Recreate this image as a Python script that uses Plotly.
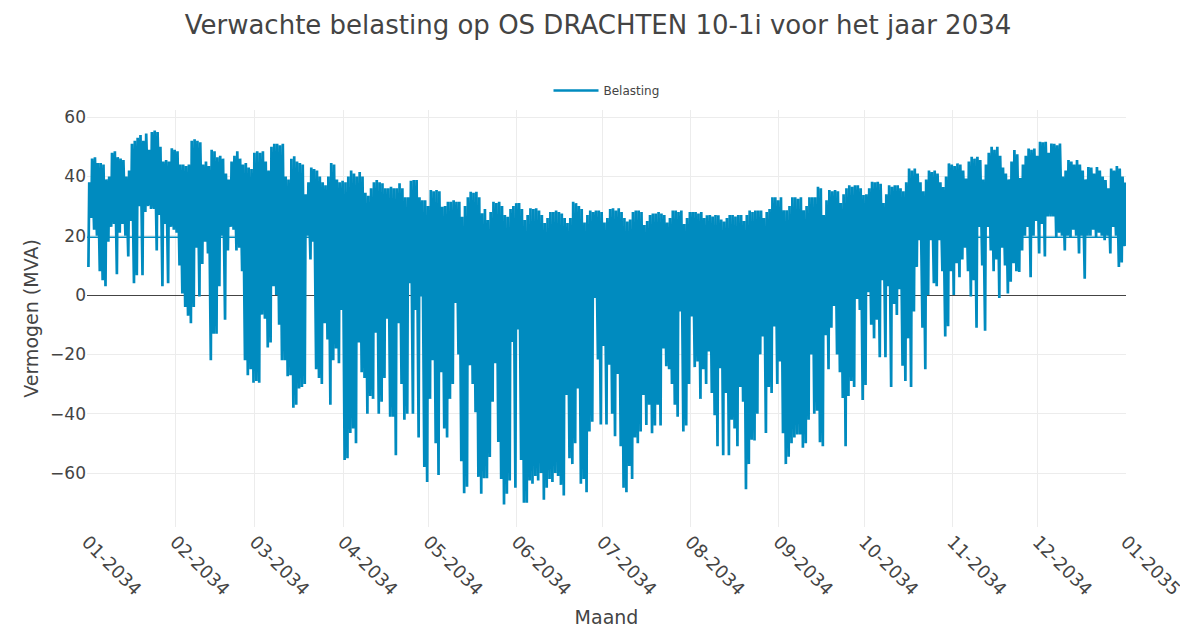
import pandas as pd
import plotly.graph_objects as go

# ---------------- data ----------------
YEAR_START = "2034-01-01"
YEAR_END = "2035-01-01"
SERIES_NAME = "Belasting"
BASE_LEVEL = 19.5   # constant horizontal line visible in the winter months

# daily maximum load (MVA) per month
max_jan = [38, 46, 46.5, 44.5, 44.5, 44, 39, 40, 48, 48.5, 46.5, 46, 45.5, 40, 42, 51, 52, 53, 54, 52,
           54.5, 49, 55, 55.5, 55, 50, 45, 45.5, 45, 49.5, 49]
max_feb = [48.5, 44, 44, 43.5, 44, 52, 52.5, 52, 51.5, 44, 45, 43.5, 49, 48.5, 46.5, 47, 46, 41, 39, 45,
           47, 48.5, 46, 44, 44.5, 43, 42.5, 48]
max_mar = [48.5, 48, 48.5, 45, 42, 50, 51, 51, 50.5, 51, 40, 39, 46, 46.8, 45, 44.5, 44, 34, 38, 43,
           42.5, 42, 40, 38, 37, 40, 44.5, 44, 39, 38, 38.5]
max_apr = [38, 40, 42, 41, 40, 41.5, 40, 34.5, 33.5, 36, 38, 38.8, 38, 37.7, 36, 36, 36.5, 36, 36, 37.7,
           36, 33, 33, 38.5, 38.8, 38.8, 33, 32, 32, 30]
max_may = [35.4, 35, 35.4, 35, 29.8, 30, 31.5, 31.5, 32, 31.5, 31.5, 26.4, 30, 33, 34.8, 34.5, 34.8, 33,
           27.6, 29, 25.3, 28, 31.5, 31, 31.5, 30, 27, 26.4, 29, 30, 31]
max_jun = [31, 29, 25.3, 27, 29.3, 29, 29.3, 28.5, 27, 24.3, 26, 28, 28, 28.5, 28, 27.5, 26, 24.3, 26,
           31.5, 31, 30, 29, 24.5, 27, 28.5, 28, 28.5, 28.5, 28]
max_jul = [24.5, 26, 29, 29.3, 28.5, 29.3, 28, 26, 24.8, 25.5, 28, 28.5, 28.5, 28, 23.6, 25, 27, 27.5,
           27.5, 28, 27.5, 27, 24.5, 26, 28.5, 28.5, 28, 28.5, 24, 26, 28]
max_aug = [28, 28, 27.5, 28, 26, 26.9, 27, 26.5, 27, 26.9, 25.5, 24.8, 26, 27, 27, 26.5, 27, 27, 25, 27,
           28.5, 28, 28.5, 28.5, 28.5, 26, 28, 29, 33, 33, 32]
max_sep = [33, 28.6, 28.6, 30, 33, 33, 32.5, 33, 28.6, 30, 33, 33, 33, 36.5, 36, 27, 32, 35.4, 35, 35.4,
           35, 31, 34, 36, 37, 36.5, 37, 37, 36, 33.7]
max_oct = [34, 36, 38.2, 38, 38.2, 37.5, 31, 34, 37, 36.5, 37, 37, 36, 35, 38, 42.7, 42, 42.7, 41, 38,
           35, 39, 42, 41.5, 42, 41, 38, 36.4, 40, 44.4, 44]
max_nov = [43.5, 44.4, 44, 42, 39.3, 45, 46.6, 46, 46.6, 45.5, 39, 44, 48, 50, 49, 50, 47, 43, 41, 39,
           45, 48.9, 47.5, 39.5, 44, 47, 49.4, 49, 49.4, 47]
max_dec = [51.7, 51.5, 51.7, 48, 51.1, 51, 50.5, 51.1, 40, 42, 45.5, 45, 44, 45.5, 44, 42, 39, 43.2, 43,
           41, 43.2, 42, 40, 38.8, 36, 42.7, 42, 43.5, 42.7, 40, 38]

# daily minimum load (MVA) per month
min_jan = [9.5, 26, 22, 20, 8, 5, 3, 18, 23, 24, 7, 21, 24, 20, 13, 25, 4, 6.7, 30, 6.7, 28, 30, 29, 29,
           15, 27, 3, 24, 4, 23, 22]
min_feb = [21, 10, 0.5, -4, -7, -9.5, -4, 16, -0.5, 10.5, 18, 14, -22, -13, -13, 3, 20, -8.3, 15, 23,
           22, 15, 16, 8, -22, -27, -25, -29.6]
min_mar = [-29, -29.6, -6.6, -8, -17.7, -16, 3, 0, -10, -22, -22, -27.4, -27, -38, -37, -31.5, -31, -30,
           20, 12, 18, -25, -28, -30, -9.5, -15, -37, -22, -18, -23, -5]
min_apr = [-55.6, -55, -46.5, -45, -50, -16, -26, -28, -40, -34, -35, -12.7, -40, -36, -28, -8, -41, -41,
           -54, -9.5, -30, -42, -40, 4, -40, -5, -48, -0.5, -58, -63]
min_may = [-35, -22, -50, -60.7, -26, -45, -48, -35, -30, -2.7, -20, -56, -66.8, -64.6, -23.7, -30, -39.5,
           -61.3, -67, -61.8, -61.8, -54.6, -36, -23, -49.5, -62, -70.6, -67, -62.5, -15.8, -65]
min_jun = [-11.6, -55.6, -70, -70, -62.5, -63.6, -61, -62.5, -60, -69, -65, -62, -63, -60, -61, -64, -67.6,
           -33.7, -55, -57, -50, -31.5, -63.6, -62, -66.5, -46, -42.7, -1, -21.7, -43.6]
min_jul = [-17.2, -43.6, -23.5, -40, -47.6, -26.6, -51, -65, -66.5, -57.6, -62, -48, -50, -46, -33.7,
           -43.8, -37, -46.6, -44, -37, -44, -18, -24, -25, -30, -37, -41, -5.5, -46, -44, -30]
min_aug = [-7.2, -24.3, -22.4, -35, -25, -30, -19, -33, -40.5, -51, -24.7, -54, -33, -54, -42, -45, -51,
           -31, -36, -65.5, -57, -48.8, -49, -40, -20, -14, -46.5, -31, -33, -10.6, -30]
min_sep = [-22.4, -46.6, -57, -54.5, -50, -48, -47, -47, -51.5, -50, -42, -20, -40, -39, -49.6, -51,
           -13.5, -25, -11, -3.7, -20, -26, -34.7, -51, -34, -29, -31, -1.3, -5, -35.4]
min_oct = [-30.3, 1, -10, -14.6, -8.3, -21, 5, -21, 3, -31, -3, -6.7, 2, -23.8, -29, -14.6, -31, -5.5,
           9.5, 18.5, -11, -25, 0, 18.5, 4, 3, 18.5, 8, -14, -10.5, 8]
min_nov = [0, 10.7, 6, 12, 16, 8, -0.5, 5, -11, 23, 10, -12, 23, 15, 8, 12, -1, 16, 10, 0.5, 4.5, 10.7,
           8, 7.8, 15, 20, 23, 6, 20, 25]
min_dec = [14, 24, 13, 26.5, 26.5, 26.5, 19.5, 21, 20, 15, 20, 19.5, 22, 20, 14, 20, 5.5, 20, 20, 22,
           19.5, 21, 20, 18.5, 20, 14, 23, 20, 9.5, 11, 16.5]

# ---------------- build series ----------------
daily_max = (max_jan + max_feb + max_mar + max_apr + max_may + max_jun +
             max_jul + max_aug + max_sep + max_oct + max_nov + max_dec)
daily_min = (min_jan + min_feb + min_mar + min_apr + min_may + min_jun +
             min_jul + min_aug + min_sep + min_oct + min_nov + min_dec)
days = pd.date_range(YEAR_START, periods=len(daily_max), freq="D")

x_vals, y_vals = [], []
for day, lo, hi in zip(days, daily_min, daily_max):
    x_vals += [day + pd.Timedelta(hours=12), day + pd.Timedelta(hours=19)]
    y_vals += [lo, hi]

COLOR = "#008bbf"
FONT = "DejaVu Sans"

fig = go.Figure()
fig.add_trace(go.Scatter(
    x=[YEAR_START, YEAR_END], y=[BASE_LEVEL, BASE_LEVEL], mode="lines",
    line=dict(color=COLOR, width=1.5), showlegend=False, hoverinfo="skip"))
fig.add_trace(go.Scatter(
    x=x_vals, y=y_vals, mode="lines", name=SERIES_NAME,
    line=dict(color=COLOR, width=2.7)))

# the page body adds an 8 px offset, so the figure is 8 px smaller on each axis
fig.update_layout(
    width=1180, height=620,
    margin=dict(l=79, r=62, t=102, b=101),
    paper_bgcolor="white", plot_bgcolor="white",
    font=dict(family=FONT, color="#444444"),
    title=dict(text="Verwachte belasting op OS DRACHTEN 10-1i voor het jaar 2034",
               x=0.5, xanchor="center", y=0.973, yanchor="middle",
               font=dict(size=26, family=FONT, color="#444444")),
    legend=dict(orientation="h", x=0.5, xanchor="center", y=1.012, yanchor="bottom",
                itemwidth=45, font=dict(size=12, family=FONT, color="#444444")),
    showlegend=True,
)
fig.update_xaxes(
    range=[YEAR_START, YEAR_END], tick0=YEAR_START, dtick="M1", tickformat="%m-%Y",
    tickangle=45, tickfont=dict(size=18), showgrid=True, gridcolor="#ececec",
    title=dict(text="Maand", font=dict(size=19)), showline=False, zeroline=False,
    automargin=False,
)
fig.update_yaxes(
    range=[-78.2, 62.4], dtick=20, tickfont=dict(size=17), showgrid=True, gridcolor="#ececec",
    zeroline=True, zerolinecolor="#444444", zerolinewidth=1,
    title=dict(text="Vermogen (MVA)", font=dict(size=19), standoff=6), automargin=False,
)

fig.write_html("out.html")
